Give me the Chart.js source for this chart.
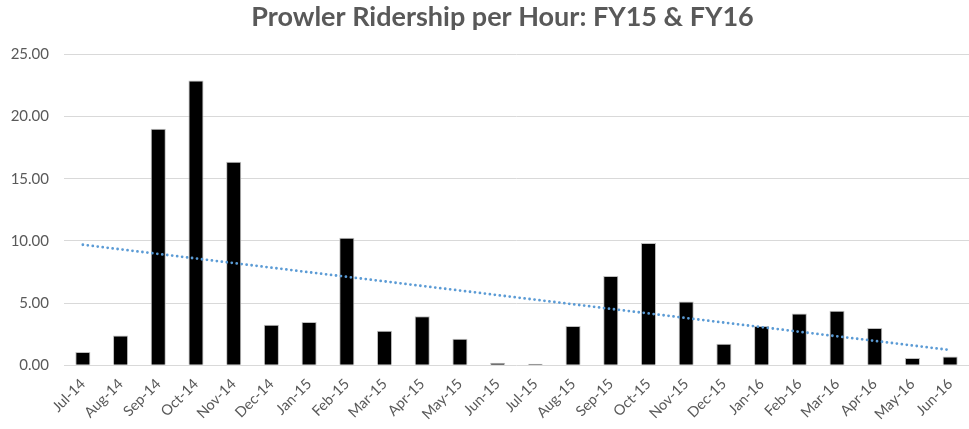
<!DOCTYPE html>
<html>
<head>
<meta charset="utf-8">
<script src="https://cdn.jsdelivr.net/npm/chart.js@4/dist/chart.umd.min.js"></script>
<style>
  html, body { margin: 0; padding: 0; background: #fff; }
  #wrap { width: 969px; height: 429px; position: relative; }
</style>
</head>
<body>
<div id="wrap"><canvas id="chart"></canvas></div>
<script>
// data
const months = ['Jul-14','Aug-14','Sep-14','Oct-14','Nov-14','Dec-14','Jan-15','Feb-15','Mar-15','Apr-15','May-15','Jun-15',
  'Jul-15','Aug-15','Sep-15','Oct-15','Nov-15','Dec-15','Jan-16','Feb-16','Mar-16','Apr-16','May-16','Jun-16'];
const ridersPerHour = [1.07, 2.41, 19.03, 22.90, 16.37, 3.27, 3.48, 10.26, 2.79, 3.94, 2.15, 0.22,
  0.14, 3.16, 7.18, 9.83, 5.14, 1.74, 3.16, 4.18, 4.40, 3.00, 0.59, 0.72];
const yTicks = [0, 5, 10, 15, 20, 25];

// linear trendline (least squares over the bars, like Excel's)
function linearTrend(ys){
  const n = ys.length;
  const xm = (n - 1) / 2;
  const ym = ys.reduce((a, b) => a + b, 0) / n;
  let sxy = 0, sxx = 0;
  ys.forEach((y, i) => { sxy += (i - xm) * (y - ym); sxx += (i - xm) * (i - xm); });
  const slope = sxy / sxx;
  return ys.map((_, i) => ym + slope * (i - xm));
}

// centre the title a bit left of the plot centre, like the original
const titleShift = {
  id: 'titleShift',
  afterLayout(chart){
    const tb = chart.titleBlock;
    if (!tb) return;
    const want = (chart.chartArea.left + chart.chartArea.right) / 2 - 14;
    const shift = want - (tb.left + tb.right) / 2;
    tb.left += 2 * shift;
  }
};

const grey = '#595959';
const ctx = document.getElementById('chart').getContext('2d');
new Chart(ctx, {
  data: {
    labels: months,
    datasets: [
      {
        type: 'line',
        label: 'Linear trend',
        data: linearTrend(ridersPerHour),
        borderColor: '#5b9bd5',
        borderWidth: 2.8,
        borderDash: [0, 5],
        borderCapStyle: 'round',
        pointRadius: 0,
        fill: false,
        order: 0
      },
      {
        type: 'bar',
        label: 'Ridership per Hour',
        data: ridersPerHour,
        backgroundColor: '#000000',
        borderColor: '#bfbfbf',
        borderWidth: 1,
        categoryPercentage: 1,
        barPercentage: 0.4,
        order: 1
      }
    ]
  },
  options: {
    responsive: true,
    maintainAspectRatio: false,
    animation: false,
    layout: { autoPadding: false, padding: { left: 10, right: 0, top: 0, bottom: 4 } },
    plugins: {
      legend: { display: false },
      tooltip: { enabled: false },
      title: {
        display: true,
        text: 'Prowler Ridership per Hour: FY15 & FY16',
        color: grey,
        font: { family: 'Lato', size: 27, weight: 'bold' },
        padding: { top: 1, bottom: 21 }
      }
    },
    scales: {
      x: {
        grid: { display: false },
        border: { display: false },
        ticks: {
          color: grey,
          font: { family: 'Lato', size: 14.5 },
          minRotation: 45,
          maxRotation: 45,
          padding: 2
        }
      },
      y: {
        min: yTicks[0],
        max: yTicks[yTicks.length - 1],
        afterBuildTicks: (axis) => { axis.ticks = yTicks.map(v => ({ value: v })); },
        afterFit: (axis) => { axis.width = 54; },
        grid: { color: '#d9d9d9', lineWidth: 1, drawTicks: false },
        border: { display: false },
        ticks: {
          color: grey,
          font: { family: 'Lato', size: 15 },
          padding: 15,
          callback: (v) => Number(v).toFixed(2)
        }
      }
    }
  },
  plugins: [titleShift]
});
</script>
</body>
</html>
